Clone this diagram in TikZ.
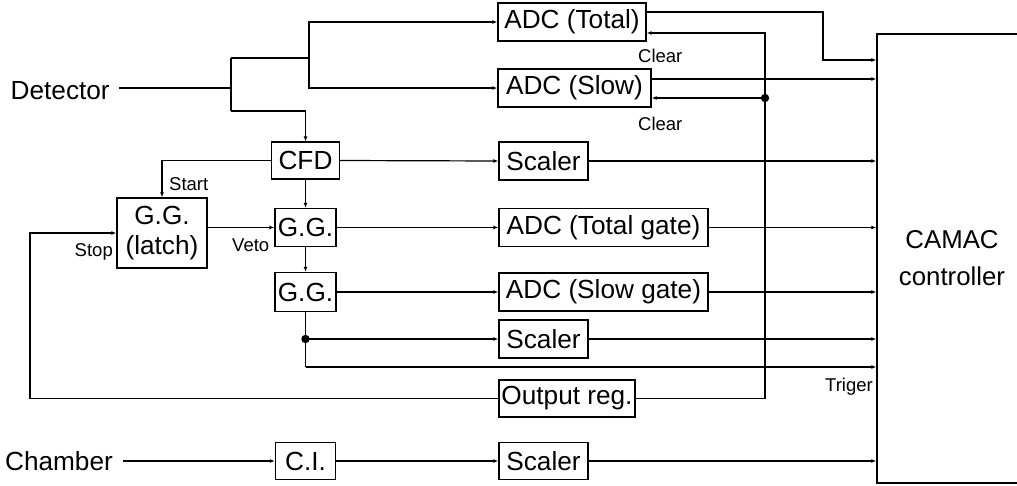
\documentclass[tikz,border=0pt]{standalone}
\usepackage{fontspec}
\setmainfont{Liberation Sans}
\usetikzlibrary{arrows.meta}
\begin{document}
\begin{tikzpicture}[x=1pt,y=-1pt,
  big/.style={font=\fontsize{26.2}{30}\selectfont},
  lbl/.style={font=\fontsize{18.5}{21}\selectfont, inner sep=0},
  box/.style={draw, line width=1.3pt, big, inner sep=0, align=center},
  wire/.style={line width=1.2pt},
  arr/.style={wire, -{Latex[length=5pt,width=4pt]}}
]
\useasboundingbox (0,0) rectangle (1017,485);
\clip (0,0) rectangle (1017,485);

% boxes
\node[box, minimum width=148, minimum height=38] (adct) at (572,22) {ADC (Total)};
\node[box, minimum width=153, minimum height=38] (adcs) at (574.5,88) {ADC (Slow)};
\node[box, minimum width=68, minimum height=37] (cfd) at (305.5,160.5) {CFD};
\node[box, minimum width=89, minimum height=38] (sc1) at (543.5,161) {Scaler};
\node[box, minimum width=90, minimum height=70] (latch) at (162,233) {G.G.\\(latch)};
\node[box, minimum width=61, minimum height=38] (gg1) at (305.5,227.5) {G.G.};
\node[box, minimum width=61, minimum height=39] (gg2) at (305.5,292) {G.G.};
\node[box, minimum width=209, minimum height=38] (adctg) at (603.5,227.5) {ADC (Total gate)};
\node[box, minimum width=209, minimum height=38] (adcsg) at (603.5,292) {ADC (Slow gate)};
\node[box, minimum width=89, minimum height=38] (sc2) at (543.5,339) {Scaler};
\node[box, minimum width=136, minimum height=37] (outreg) at (567,398.5) {Output reg.};
\node[box, minimum width=89, minimum height=37] (sc3) at (543.5,461) {Scaler};
\node[box, minimum width=60, minimum height=37] (ci) at (305.5,461) {C.I.};
\node[box, minimum width=150, minimum height=449, font=\fontsize{25.8}{37}\selectfont] (camac) at (952,258.5) {CAMAC\\controller};

% input labels
\node[big, inner ysep=0, inner xsep=9] (det) at (60.2,91) {Detector};
\node[big, inner ysep=0, inner xsep=10] (cham) at (59,461) {Chamber};

% coordinates
\coordinate (j1) at (231,88);
\coordinate (j1t) at (231,58);
\coordinate (j1b) at (231,111);
\coordinate (j2) at (309,58);
\coordinate (j3) at (305.5,367);
\coordinate (j4) at (305.5,339);
\coordinate (s1) at (30,300);
\coordinate (c1) at (765,33);
\coordinate (c2) at (765,98);
\coordinate (t1) at (823,12);
\coordinate (t2) at (823,60);
\coordinate (a2) at (700,79);

% detector tree
\draw[wire] (det.east |- j1) -- (j1);
\draw[wire] (j1t) -- (j1b);
\draw[wire] (j1t) -- (j2);
\draw[arr] (j2) |- (adct.west);
\draw[arr] (j2) |- (adcs.west);
\draw[arr] (j1b) -| (cfd.north);

% CFD and gates
\draw[arr] (cfd.west) -| (latch.north);
\draw[arr] (cfd.east) -- (sc1.west);
\draw[arr] (cfd.south) -- (gg1.north);
\draw[arr] (latch.east |- gg1.west) -- (gg1.west);
\draw[arr] (gg1.south) -- (gg2.north);
\draw[arr] (gg1.east) -- (adctg.west);
\draw[arr] (gg2.east) -- (adcsg.west);
\draw[wire] (gg2.south) -- (j3);
\draw[arr] (j3) -- (j3 -| camac.west);
\fill (j4) circle[radius=4.2];
\draw[arr] (j4) -- (sc2.west);

% stop loop
\draw[arr] (outreg.west) -| (s1) |- (latch.west);

% clear loop
\draw[arr] (outreg.east) -| (c1) -- (c1 -| adct.east);
\fill (c2) circle[radius=4.2];
\draw[arr] (c2) -- (c2 -| adcs.east);

% to CAMAC
\draw[arr] (t1 -| adct.east) -- (t1) -- (t2) -- (t2 -| camac.west);
\draw[arr] (a2 -| adcs.east) -- (a2 -| camac.west);
\draw[arr] (sc1.east) -- (sc1.east -| camac.west);
\draw[arr] (adctg.east) -- (adctg.east -| camac.west);
\draw[arr] (adcsg.east) -- (adcsg.east -| camac.west);
\draw[arr] (sc2.east) -- (sc2.east -| camac.west);
\draw[arr] (sc3.east) -- (sc3.east -| camac.west);

% chamber
\draw[arr] (cham.east |- ci.west) -- (ci.west);
\draw[arr] (ci.east) -- (sc3.west);

% small labels
\node[lbl, anchor=base west] (lstart) at (169,190) {Start};
\node[lbl, anchor=base east] (lstop) at (113,256) {Stop};
\node[lbl, anchor=base west] (lveto) at (232,251) {Veto};
\node[lbl, anchor=base west] (lclr1) at (638,62) {Clear};
\node[lbl, anchor=base west] (lclr2) at (638,130) {Clear};
\node[lbl, anchor=base east] (ltrig) at (873,391) {Triger};
\end{tikzpicture}
\end{document}
